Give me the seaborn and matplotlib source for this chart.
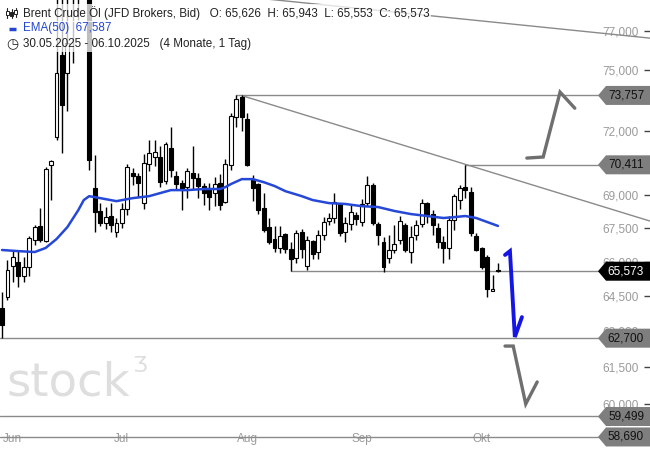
import numpy as np
import matplotlib
matplotlib.use("Agg")
import matplotlib.pyplot as plt
import matplotlib.transforms as mtransforms
from matplotlib.patches import Polygon, Rectangle
from matplotlib.ticker import FixedLocator, FuncFormatter, NullLocator
import seaborn as sns

# Brent daily candles, one per trading day from 30.05.2025 to 06.10.2025
opens = [63.98, 64.45, 65.80, 66.00, 65.35, 65.75, 66.95, 67.60, 66.90, 70.40,
         71.73, 75.77, 74.87, 79.00, 79.50, 80.00, 79.50, 69.35, 68.27, 67.72,
         68.04, 67.31, 67.72, 68.36, 70.05, 69.88, 68.63, 70.45, 70.78, 70.78,
         69.65, 71.20, 69.88, 69.55, 69.37, 70.05, 69.78, 69.40, 69.32, 69.10,
         69.55, 68.70, 70.40, 72.69, 73.70, 72.60, 69.69, 69.50, 68.40, 67.54,
         67.00, 66.60, 67.22, 66.55, 66.15, 67.31, 65.80, 66.90, 66.42, 67.18,
         67.81, 67.95, 68.59, 67.31, 67.68, 68.08, 67.77, 68.63, 69.46, 67.68,
         66.86, 66.15, 66.51, 66.95, 67.63, 66.40, 67.18, 67.68, 68.63, 68.13,
         67.50, 66.86, 66.60, 67.86, 68.77, 69.37, 69.14, 67.13, 66.60, 66.20,
         64.70, 65.626]
highs = [64.66, 66.06, 66.50, 66.45, 66.20, 67.15, 67.65, 68.40, 70.30, 70.65,
         78.80, 78.90, 78.70, 80.20, 80.80, 81.00, 81.50, 70.87, 68.63, 68.45,
         68.63, 67.95, 68.63, 70.45, 70.25, 70.02, 70.90, 71.60, 71.60, 71.30,
         71.50, 72.20, 70.10, 69.70, 70.25, 71.30, 70.05, 69.55, 69.55, 69.83,
         70.00, 70.68, 72.89, 73.76, 73.76, 72.90, 69.93, 69.55, 69.10, 67.95,
         67.60, 67.60, 67.27, 66.86, 67.40, 67.45, 67.15, 66.95, 67.40, 68.00,
         68.18, 69.10, 68.63, 67.99, 68.59, 68.22, 68.80, 69.90, 69.55, 67.77,
         67.10, 67.20, 67.63, 68.04, 67.72, 67.59, 67.86, 68.82, 68.68, 68.31,
         67.72, 67.13, 68.04, 69.05, 69.46, 70.41, 69.37, 67.27, 66.64, 66.29,
         65.40, 65.943]
lows = [62.70, 64.32, 65.10, 64.90, 65.10, 65.35, 66.75, 66.85, 66.85, 68.75,
        71.60, 70.97, 73.00, 75.37, 77.57, 78.90, 70.16, 67.31, 67.58, 67.45,
        67.31, 67.09, 67.50, 68.10, 69.46, 68.90, 68.36, 70.13, 70.35, 69.37,
        69.50, 69.83, 69.23, 68.31, 68.86, 69.28, 68.86, 68.55, 68.31, 68.50,
        68.31, 68.63, 70.16, 72.20, 72.00, 70.35, 68.72, 68.13, 67.31, 66.80,
        66.42, 66.37, 66.37, 65.57, 65.93, 66.15, 65.62, 66.10, 66.10, 66.95,
        67.63, 67.72, 67.13, 66.86, 67.40, 67.63, 67.59, 68.50, 67.63, 66.73,
        65.55, 65.95, 66.37, 66.78, 66.40, 65.95, 66.95, 67.54, 67.72, 67.18,
        66.60, 65.95, 66.10, 67.40, 68.36, 68.86, 67.13, 66.46, 65.66, 64.45,
        64.70, 65.553]
closes = [63.25, 65.62, 66.20, 65.35, 65.75, 67.05, 67.55, 66.95, 70.20, 70.60,
          74.87, 73.30, 76.38, 79.60, 80.00, 79.20, 70.63, 68.22, 67.72, 68.00,
          67.63, 67.72, 68.36, 70.30, 69.90, 69.55, 70.49, 70.95, 71.00, 69.60,
          71.40, 70.16, 69.50, 69.23, 70.13, 69.78, 69.42, 69.10, 68.90, 69.50,
          68.54, 70.45, 72.74, 73.60, 72.69, 70.40, 69.32, 68.31, 67.40, 66.86,
          66.60, 67.13, 66.55, 66.10, 67.27, 66.55, 66.95, 66.33, 67.18, 67.77,
          67.95, 68.68, 67.27, 67.72, 68.22, 67.90, 68.59, 69.46, 67.72, 67.18,
          65.75, 66.51, 66.78, 67.81, 66.51, 67.10, 67.63, 68.63, 68.08, 67.63,
          66.86, 66.60, 67.86, 68.95, 69.32, 69.23, 67.27, 66.51, 65.75, 64.79,
          64.80, 65.573]

# EMA(50) (bar index, value)
ema_idx = [0, 3, 6, 8, 10, 12, 14, 15, 16, 18, 21, 24, 27, 29, 31, 34, 37, 40,
           41, 42, 44, 46, 48, 50, 52, 55, 57, 60, 63, 66, 69, 72, 75, 78, 81,
           83, 85, 87, 89, 91]
ema_vals = [66.51, 66.46, 66.42, 66.60, 67.00, 67.54, 68.31, 68.77, 68.95, 68.86,
            68.72, 68.86, 68.95, 69.09, 69.23, 69.23, 69.28, 69.28, 69.37, 69.51,
            69.74, 69.74, 69.60, 69.42, 69.18, 68.95, 68.77, 68.63, 68.59, 68.49,
            68.45, 68.27, 68.13, 68.04, 67.95, 67.99, 68.04, 67.95, 67.77, 67.59]

# horizontal levels: price, first bar, tag style
level_prices = [73.757, 70.411, 65.573, 62.700, 59.499, 58.690]
level_start = [43, 85, 53, -0.4, -0.4, -0.4]
level_dark = [False, False, True, False, False, False]

# trend lines (bar index, price)
trend_upper_x = [16, 118.9]
trend_upper_y = [79.63, 76.64]
trend_lower_x = [43.9, 118.9]
trend_lower_y = [73.757, 67.81]

# projection arrows drawn on the chart (bar index, price)
up_path_x = [96.3, 99.3, 102.4, 105.1]
up_path_y = [70.73, 70.78, 73.92, 73.13]
blue_path_x = [92.3, 93.2, 94.1, 95.4]
blue_path_y = [66.29, 66.46, 62.75, 63.59]
down_path_x = [92.3, 93.8, 96.1, 98.2]
down_path_y = [62.37, 62.37, 60.00, 60.89]

month_pos = [1, 22, 45, 66, 88]
month_names = ["Jun", "Jul", "Aug", "Sep", "Okt"]
price_ticks = [60.0, 61.5, 63.0, 64.5, 66.0, 67.5, 69.0, 72.0, 75.0, 77.0]

sns.set_style("white")
plt.rcParams['font.family'] = ['Liberation Sans', 'DejaVu Sans']

fig = plt.figure(figsize=(6.5, 4.5), dpi=100)
ax = fig.add_axes([0, 0, 1, 1])
ax.set_yscale('log')
ax.set_xlim(-0.37, 118.9)
ax.set_ylim(58.18, 78.62)
for s in ax.spines.values():
    s.set_visible(False)

def de_num(v):
    return f"{v:.3f}".replace('.', ',')

# candles
o = np.array(opens)
c = np.array(closes)
idx = np.arange(len(o))
lo = np.minimum(o, c)
hi = np.maximum(o, c)
ax.vlines(idx, lows, highs, color='black', lw=1.0, zorder=3)
ax.bar(idx, hi - lo, bottom=lo, width=0.72,
       color=np.where(c >= o, 'white', 'black'), edgecolor='black',
       linewidth=0.8, zorder=4)

# EMA
sns.lineplot(x=ema_idx, y=ema_vals, ax=ax, color='#2548d6', lw=1.8, zorder=5)

# levels and trend lines
gray = '#8a8a8a'
for p, start in zip(level_prices, level_start):
    ax.plot([start, 109.5], [p, p], color=gray, lw=1.0, zorder=2)
ax.plot(trend_upper_x, trend_upper_y, color=gray, lw=1.0, zorder=2)
ax.plot(trend_lower_x, trend_lower_y, color=gray, lw=1.0, zorder=2)

# arrows
ax.plot(up_path_x, up_path_y, color='#6f6f6f', lw=2.4, zorder=5, solid_joinstyle='miter')
ax.plot(down_path_x, down_path_y, color='#6f6f6f', lw=2.4, zorder=5, solid_joinstyle='miter')
ax.plot(blue_path_x, blue_path_y, color='#1515e6', lw=2.8, zorder=5, solid_joinstyle='miter')

# axes ticks
ax.yaxis.tick_right()
ax.yaxis.set_major_locator(FixedLocator(price_ticks))
ax.yaxis.set_minor_locator(NullLocator())
ax.yaxis.set_major_formatter(FuncFormatter(lambda v, _: de_num(v)))
ax.tick_params(axis='y', which='major', direction='in', length=4, width=1,
               pad=-8, labelsize=8.5, colors='#444444', labelcolor='#9a9a9a')
for lbl in ax.get_yticklabels():
    lbl.set_horizontalalignment('right')

ax.set_xticks(month_pos)
ax.set_xticklabels(month_names)
ax.tick_params(axis='x', direction='in', length=4, width=1, pad=-12.5,
               labelsize=8.5, colors='#444444', labelcolor='#9a9a9a')
first = ax.get_xticklabels()[0]
first.set_horizontalalignment('left')
first.set_transform(first.get_transform() + mtransforms.Affine2D().translate(-5, 0))

# price tags on the right
tag_base = mtransforms.blended_transform_factory(ax.transAxes, ax.transData)
tag_shape = [(-52, 0), (-44, 9.5), (0, 9.5), (0, -9.5), (-44, -9.5)]
for p, dark in zip(level_prices, level_dark):
    anchor = mtransforms.ScaledTranslation(1.0, p, tag_base)
    ax.add_patch(Polygon(tag_shape, closed=True,
                         transform=mtransforms.Affine2D() + anchor,
                         facecolor='black' if dark else '#7e7e7e',
                         edgecolor='none', zorder=6, clip_on=False))
    ax.text(1.0, p, de_num(p),
            transform=mtransforms.offset_copy(tag_base, fig=fig, x=-24, y=0, units='dots'),
            ha='center', va='center', fontsize=8.5,
            color='white' if dark else '#111111', zorder=7)

# watermark
ax.text(6 / 650, 1 - 396 / 450, "stock", transform=ax.transAxes, fontsize=33.5,
        family='DejaVu Sans', color='#dedede', va='baseline', ha='left', zorder=0.3)
ax.text(132 / 650, 1 - 356 / 450, "Ʒ", transform=ax.transAxes, fontsize=16,
        family='DejaVu Sans', color='#dedede', va='top', ha='left', zorder=0.3)

# header lines
box = dict(boxstyle='square,pad=0.15', facecolor='white', edgecolor='none', alpha=0.75)
ax.text(23 / 650, 1 - 13 / 450,
        "Brent Crude Öl (JFD Brokers, Bid)   O: 65,626  H: 65,943  L: 65,553  C: 65,573",
        transform=ax.transAxes, fontsize=8.4, color='#222222', va='center',
        ha='left', bbox=box, zorder=8)
ax.text(23 / 650, 1 - 28.5 / 450, "EMA(50)  67,587", transform=ax.transAxes,
        fontsize=8.4, color='#2446d0', va='center', ha='left', bbox=box, zorder=8)
ax.text(23 / 650, 1 - 44 / 450, "30.05.2025 - 06.10.2025   (4 Monate, 1 Tag)",
        transform=ax.transAxes, fontsize=8.4, color='#222222', va='center',
        ha='left', bbox=box, zorder=8)

# small icons in the header
for cx, top, bot, b0, b1, filled in [(7, 8, 18, 11, 15, False), (11.5, 9, 18, 12, 16, True),
                                     (16, 8, 17, 10, 14, False)]:
    ax.plot([cx / 650, cx / 650], [1 - top / 450, 1 - bot / 450], transform=ax.transAxes,
            color='#222222', lw=0.8, zorder=9)
    ax.add_patch(Rectangle((cx / 650 - 1.5 / 650, 1 - b1 / 450), 3 / 650, (b1 - b0) / 450,
                           transform=ax.transAxes, facecolor='#222222' if filled else 'white',
                           edgecolor='#222222', lw=0.7, zorder=10))
ax.plot([9 / 650, 16 / 650], [1 - 29 / 450, 1 - 29 / 450], transform=ax.transAxes,
        color='#2446d0', lw=2.5, zorder=9, solid_capstyle='butt')
ax.text(12 / 650, 1 - 44 / 450, "◷", transform=ax.transAxes, fontsize=10,
        family='DejaVu Sans', color='#222222', va='center', ha='center', zorder=9)

fig.savefig("out.png", dpi=100)
